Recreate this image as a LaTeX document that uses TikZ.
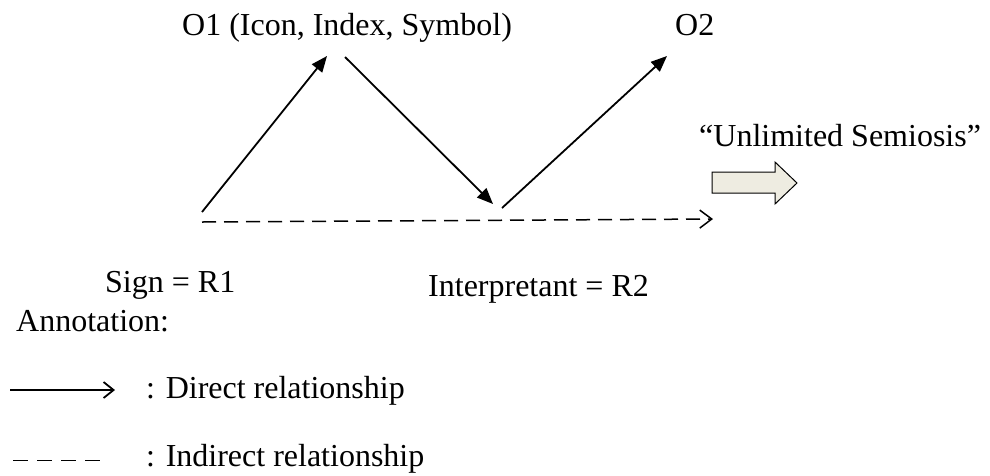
\documentclass[tikz,border=0pt]{standalone}
\usepackage{fontspec}
\setmainfont{Liberation Serif}
\usepackage{tikz}
\usetikzlibrary{arrows.meta}
\definecolor{blockbeige}{RGB}{238,236,225}

\begin{document}
\begin{tikzpicture}[x=1pt, y=-1pt,
    lbl/.style={anchor=base west, inner sep=0pt, font=\fontsize{32}{38}\selectfont},
    direct/.style={line width=1.8pt, -{Triangle[length=16pt,width=13pt]}},
    indirect/.style={line width=1.5pt, dash pattern=on 14pt off 8pt, -{Straight Barb[length=12pt,width=18pt]}}]
    \useasboundingbox (0,0) rectangle (990,475);

    % Objects and representamens
    \node[lbl] (o1) at (182,35) {O1 (Icon, Index, Symbol)};
    \node[lbl] (o2) at (675,35) {O2};
    \node[lbl] (sign) at (105,292) {Sign = R1};
    \node[lbl] (interp) at (428,296) {Interpretant = R2};

    % Arrow end points
    \coordinate (r1) at (202,212);
    \coordinate (o1in) at (327,56);
    \coordinate (o1out) at (345,57);
    \coordinate (r2in) at (493,204);
    \coordinate (r2out) at (502,208);
    \coordinate (o2in) at (667,56);
    \coordinate (dstart) at (202,222);
    \coordinate (dend) at (713,219);

    \draw[direct] (r1) -- (o1in);
    \draw[direct] (o1out) -- (r2in);
    \draw[direct] (r2out) -- (o2in);
    \draw[indirect] (dstart) -- (dend);

    % Unlimited semiosis
    \node[lbl] (semiosis) at (699,146) {“Unlimited Semiosis”};
    \draw[line width=1pt, fill=blockbeige]
        (712,172) -- (775,172) -- (775,162) -- (797,183) -- (775,204)
        -- (775,193) -- (712,193) -- cycle;

    % Annotation
    \node[lbl] (annot) at (16,331) {Annotation:};
    \coordinate (la) at (10,390);
    \coordinate (lb) at (115,390);
    \coordinate (lc) at (13,460);
    \coordinate (ld) at (100,460);
    \draw[line width=1.8pt, -{Straight Barb[length=10pt,width=16pt]}] (la) -- (lb);
    \draw[line width=1pt, dash pattern=on 15pt off 9pt] (lc) -- (ld);
    \node[lbl] (ldirect) at (146,398) {: Direct relationship};
    \node[lbl] (lindirect) at (146,466) {: Indirect relationship};
\end{tikzpicture}
\end{document}
